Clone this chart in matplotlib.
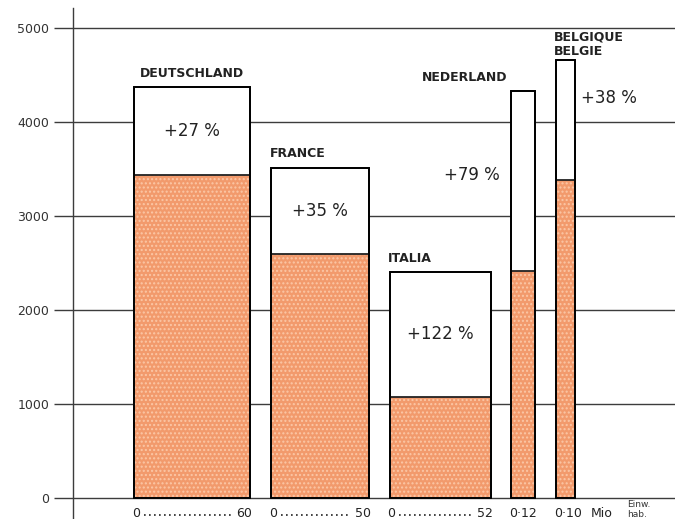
import matplotlib.pyplot as plt

# Bar widths = population (Mio Einw.), heights = values before / after growth
countries = ['DEUTSCHLAND', 'FRANCE', 'ITALIA', 'NEDERLAND', 'BELGIQUE\nBELGIE']
population = [60, 50, 52, 12, 10]
base_value = [3440, 2600, 1080, 2420, 3380]
new_value = [4370, 3510, 2400, 4330, 4660]
growth = ['+27 %', '+35 %', '+122 %', '+79 %', '+38 %']
pop_labels = ['60', '50', '52', '12', '10']

plt.rcParams['hatch.linewidth'] = 1.0

fig = plt.figure(figsize=(6.85, 5.19), dpi=100)
ax = fig.add_axes([73 / 685, 0, 602 / 685, 511 / 519])
ax.set_xlim(0, 310)
ax.set_ylim(-223, 5213)

# bar positions along the population axis
start, gap = 31.4, 10.8
lefts = []
x = start
for p in population:
    lefts.append(x)
    x += p + gap

ax.set_yticks([0, 1000, 2000, 3000, 4000, 5000])
ax.set_xticks([])
ax.grid(axis='y', color='#3c3c3c', linewidth=1.0, zorder=0)
ax.tick_params(axis='y', length=13.5, width=1.0, color='#3c3c3c', pad=3.5,
               labelsize=9, labelcolor='#333333')
for s in ['top', 'right', 'bottom']:
    ax.spines[s].set_visible(False)
ax.spines['left'].set_color('#3c3c3c')
ax.spines['left'].set_linewidth(1.0)

# total (white) bars
ax.bar(lefts, new_value, width=population, align='edge', color='white',
       edgecolor='black', linewidth=1.3, zorder=2)
# base (orange, dotted) bars
ax.bar(lefts, base_value, width=population, align='edge', color='#f29a6c',
       edgecolor='#fbc7a6', linewidth=0, hatch='....', zorder=3)
ax.bar(lefts, base_value, width=population, align='edge', fill=False,
       edgecolor='#222222', linewidth=1.3, zorder=4)
ax.bar(lefts, new_value, width=population, align='edge', fill=False,
       edgecolor='black', linewidth=1.3, zorder=4)

lab_kw = dict(fontsize=9, fontweight='bold', color='#222222', zorder=5)
pct_kw = dict(fontsize=12, color='#222222', va='center', zorder=5)
for i, (c, l, p, b, n) in enumerate(zip(countries, lefts, population, base_value, new_value)):
    if i == 0:
        ax.text(l + p / 2, n + 150, c, ha='center', va='center', **lab_kw)
    elif i in (1, 2):
        ax.text(l - 1, n + 150, c, ha='left', va='center', **lab_kw)
    elif i == 3:
        ax.text(l - 2, n + 140, c, ha='right', va='center', **lab_kw)
    else:
        ax.text(l - 1, n + 170, c, ha='left', va='center', linespacing=1.1, **lab_kw)

    if i < 3:
        ax.text(l + p / 2, (b + n) / 2, growth[i], ha='center', **pct_kw)
    elif i == 3:
        ax.text(l - 6, 3440, growth[i], ha='right', **pct_kw)
    else:
        ax.text(l + p + 3, 4255, growth[i], ha='left', **pct_kw)

    # population scale under each bar
    if p >= 20:
        ax.text(l - 1, -95, '0', ha='left', va='top', fontsize=9, color='#222222')
        ax.text(l + p + 1, -95, pop_labels[i], ha='right', va='top', fontsize=9,
                color='#222222')
        ax.plot([l + 5, l + p - 9], [-180, -180], linestyle=(0, (1, 2)),
                color='#222222', linewidth=1.2, clip_on=False)
    else:
        ax.text(l - 1, -95, '0·' + pop_labels[i], ha='left', va='top', fontsize=9,
                color='#222222')

ax.text(266.5, -95, 'Mio', ha='left', va='top', fontsize=9, color='#222222')
ax.text(285.6, -70, 'Einw.', ha='left', va='center', fontsize=6.5, color='#333333')
ax.text(285.6, -170, 'hab.', ha='left', va='center', fontsize=6.5, color='#333333')

fig.savefig('out.png', dpi=100)
